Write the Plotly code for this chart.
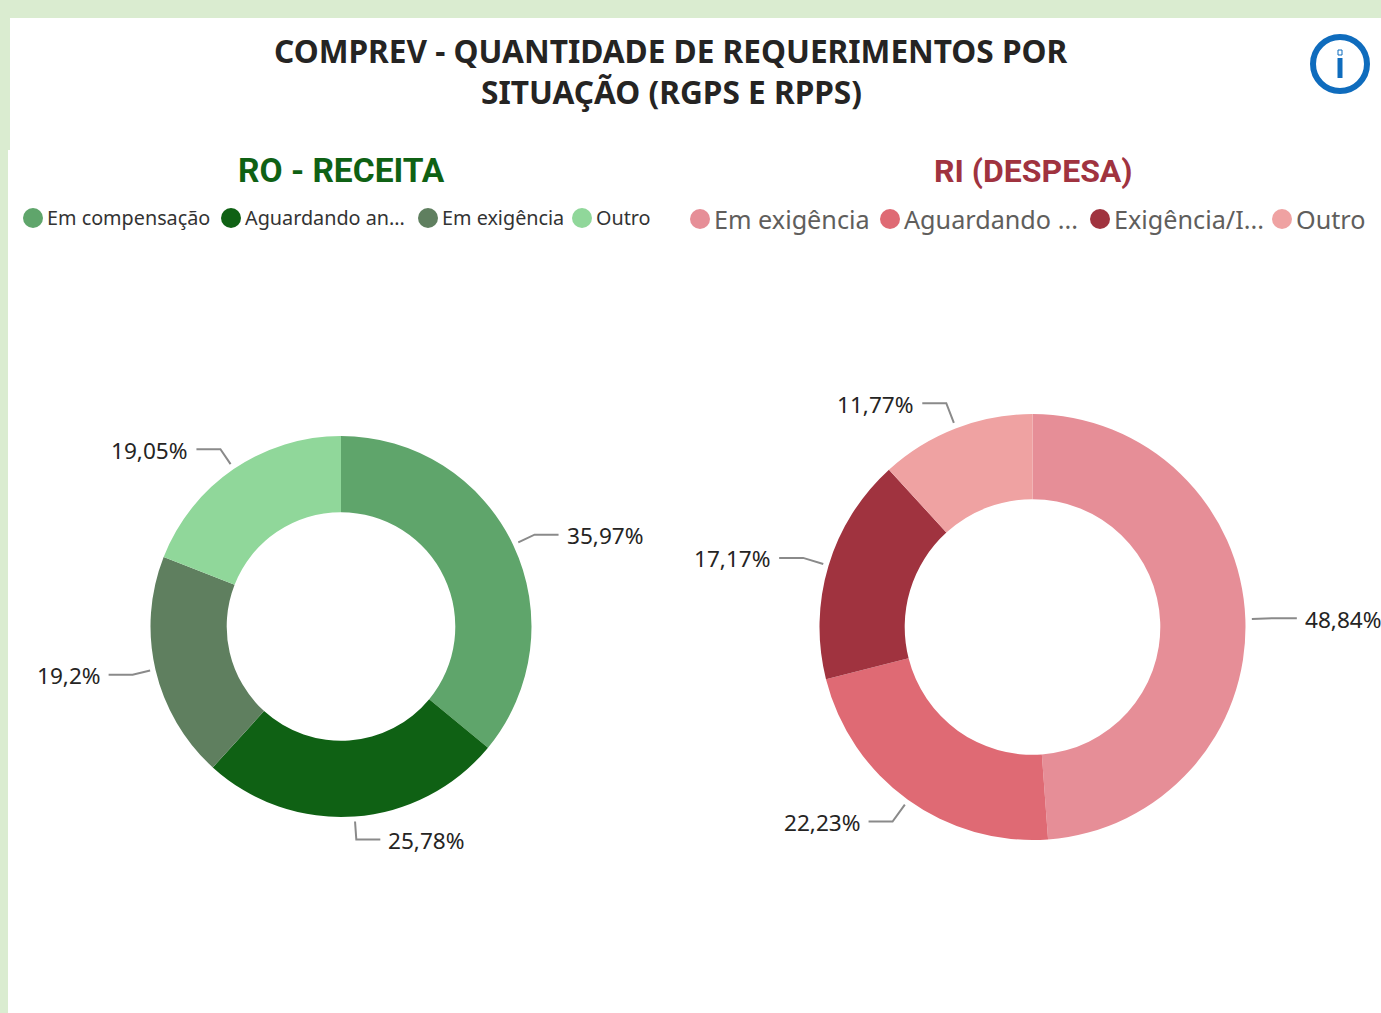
import math
import plotly.graph_objects as go

W, H = 1381, 1013

title_lines = ["COMPREV - QUANTIDADE DE REQUERIMENTOS POR", "SITUAÇÃO (RGPS E RPPS)"]
ro_title = "RO - RECEITA"
ri_title = "RI (DESPESA)"

ro_labels = ["Em compensação", "Aguardando análise", "Em exigência", "Outro"]
ro_legend = ["Em compensação", "Aguardando an...", "Em exigência", "Outro"]
ro_values = [35.97, 25.78, 19.2, 19.05]
ro_text = ["35,97%", "25,78%", "19,2%", "19,05%"]
ro_colors = ["#5FA56B", "#0F6114", "#5F7F5F", "#90D79A"]

ri_labels = ["Em exigência", "Aguardando análise", "Exigência/Indeferido", "Outro"]
ri_legend = ["Em exigência", "Aguardando ...", "Exigência/I...", "Outro"]
ri_values = [48.84, 22.23, 17.17, 11.77]
ri_text = ["48,84%", "22,23%", "17,17%", "11,77%"]
ri_colors = ["#E68E97", "#DF6A74", "#A0333F", "#EFA2A2"]

FONT = "Noto Sans"


def px(x):
    return x / W


def py(y):
    return 1 - y / H


shapes = []
annotations = []

# page frame
band = "#DAECD0"
for x0, y0, x1, y1 in [(0, 0, W, 18), (0, 0, 10, 150), (0, 150, 8, H)]:
    shapes.append(dict(type="rect", xref="paper", yref="paper", x0=px(x0), x1=px(x1),
                       y0=py(y1), y1=py(y0), fillcolor=band, line_width=0, layer="below"))


def text(x, y, s, size, color, anchor="left", family=FONT, bold=False):
    annotations.append(dict(xref="paper", yref="paper", x=px(x), y=py(y), text=f"<b>{s}</b>" if bold else s,
                            showarrow=False, xanchor=anchor, yanchor="middle",
                            font=dict(family=family, size=size, color=color), borderpad=0, borderwidth=0))


def donut(cx, cy, r, labels, values, colors):
    return go.Pie(labels=labels, values=values, hole=0.6, sort=False, direction="clockwise", rotation=0,
                  textinfo="none", marker=dict(colors=colors, line=dict(width=0)), showlegend=False,
                  domain=dict(x=[px(cx - r), px(cx + r)], y=[py(cy + r), py(cy - r)]))


def leaders(cx, cy, r, values, labels, elbow_gap, size):
    total = sum(values)
    acc = 0
    for v, lab in zip(values, labels):
        a = 2 * math.pi * (acc + v / 2) / total
        acc += v
        s, c = math.sin(a), math.cos(a)
        x0, y0 = cx + (r + 6) * s, cy - (r + 6) * c
        x1, y1 = cx + (r + elbow_gap) * s, cy - (r + elbow_gap) * c
        sign = 1 if s > 0 else -1
        x2 = x1 + sign * 24
        shapes.append(dict(type="path", xref="paper", yref="paper",
                           path=f"M {px(x0)} {py(y0)} L {px(x1)} {py(y1)} L {px(x2)} {py(y1)}",
                           line=dict(color="#8A8A8A", width=2)))
        text(x2 + sign * 8, y1 + 1, lab, size, "#252423", "left" if sign > 0 else "right")


def legend(xs, y, labels, colors, size, color, r=10):
    for x, lab, col in zip(xs, labels, colors):
        shapes.append(dict(type="circle", xref="paper", yref="paper", x0=px(x - r), x1=px(x + r),
                           y0=py(y + r), y1=py(y - r), fillcolor=col, line_width=0))
        text(x + r + 3.5, y, lab, size, color)


fig = go.Figure()
fig.add_trace(donut(341, 626.5, 190.5, ro_labels, ro_values, ro_colors))
fig.add_trace(donut(1032.5, 627, 213, ri_labels, ri_values, ri_colors))

leaders(341, 626, 190, ro_values, ro_text, 24, 22.6)
leaders(1033, 627, 213, ri_values, ri_text, 27, 22.6)

text(671, 50, title_lines[0], 31.6, "#252423", "center", bold=True)
text(671, 92, title_lines[1], 31.6, "#252423", "center", bold=True)
text(341, 171, ro_title, 33.5, "#0F6114", "center", family="Roboto", bold=True)
text(1033, 171, ri_title, 32, "#A0333F", "center", family="Roboto", bold=True)

legend([33, 231, 428, 582], 218, ro_legend, ro_colors, 19.8, "#333333")
legend([700, 890, 1100, 1282], 219, ri_legend, ri_colors, 25.2, "#605E5C")

# info icon
shapes.append(dict(type="circle", xref="paper", yref="paper", x0=px(1313), x1=px(1367),
                   y0=py(91), y1=py(37), fillcolor="white", line=dict(color="#0F6CBD", width=6)))
shapes.append(dict(type="rect", xref="paper", yref="paper", x0=px(1337.5), x1=px(1342.5),
                   y0=py(78), y1=py(58), fillcolor="#0F6CBD", line_width=0))
shapes.append(dict(type="rect", xref="paper", yref="paper", x0=px(1338), x1=px(1342),
                   y0=py(55), y1=py(50), fillcolor="white", line=dict(color="#0F6CBD", width=1)))

fig.update_layout(width=W, height=H, margin=dict(l=0, r=0, t=0, b=0), paper_bgcolor="white",
                  plot_bgcolor="white", shapes=shapes, annotations=annotations, showlegend=False)

fig.write_html("out.html", config=dict(displayModeBar=False),
               post_script="document.body.style.margin='0';document.body.style.overflow='hidden';")
